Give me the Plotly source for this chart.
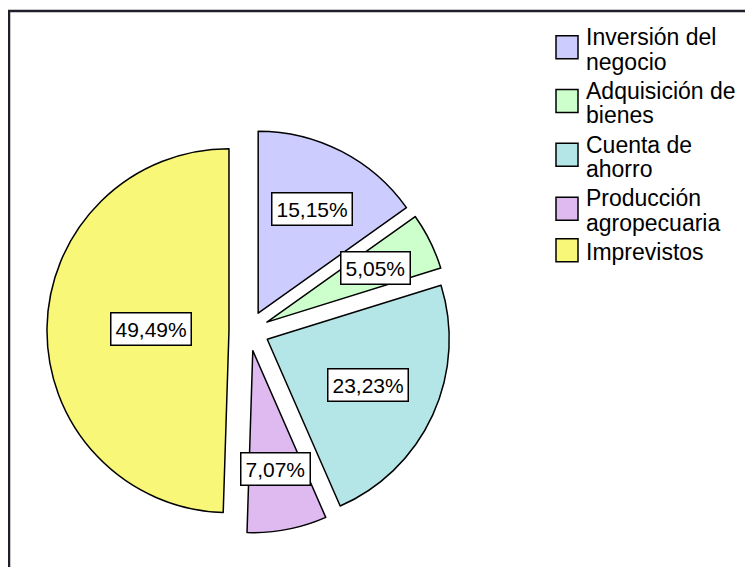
import numpy as np
import plotly.graph_objects as go

# Data
categories = ["Inversión del<br>negocio", "Adquisición de<br>bienes", "Cuenta de<br>ahorro",
              "Producción<br>agropecuaria", "Imprevistos"]
percentages = [15.15, 5.05, 23.23, 7.07, 49.49]
slice_colors = ["#ccccff", "#ccffcc", "#b4e6e8", "#dfbaf0", "#f9f778"]

# Layout geometry (pixels); the page body adds an 8px margin, so shift back
W, H = 753, 567
OFF = 8
CX, CY = 249 - OFF, 331 - OFF   # pie centre
R = 182                         # pie radius
PULL = 0.11                     # every slice is pulled out
HALF = R * (1 + PULL)           # plotly shrinks r so pulled slices fit the domain
FONT = "Liberation Sans, Arial"

fig = go.Figure()

fig.add_trace(go.Pie(
    labels=[c.replace("<br>", " ") for c in categories],
    values=percentages,
    sort=False,
    direction="clockwise",
    rotation=0,
    pull=[PULL] * len(percentages),
    marker=dict(colors=slice_colors, line=dict(color="black", width=1.5)),
    textinfo="none",
    hoverinfo="label+percent",
    showlegend=False,
    domain=dict(x=[(CX - HALF) / W, (CX + HALF) / W],
                y=[1 - (CY + HALF) / H, 1 - (CY - HALF) / H]),
))

# value labels in white boxes, placed at each sector's centroid
total = sum(percentages)
start = 0.0
for v in percentages:
    frac = v / total
    theta = 2 * np.pi * frac
    mid = 2 * np.pi * (start + frac / 2)
    centroid = 2 * R * np.sin(theta / 2) / (1.5 * theta)
    dist = PULL * R + centroid
    x = (CX + dist * np.sin(mid)) / W
    y = 1 - (CY - dist * np.cos(mid)) / H
    fig.add_annotation(
        x=x, y=y, xref="paper", yref="paper", xanchor="center", yanchor="middle",
        text=f"{v:.2f}%".replace(".", ","),
        showarrow=False,
        font=dict(family=FONT, size=21, color="black"),
        bgcolor="white", bordercolor="black", borderwidth=1.5, borderpad=4,
    )
    start += frac

# legend drawn by hand: SPSS-style big text with tight line spacing
LEG_FONT = 23
LINE_GAP = 24.5    # baseline to baseline inside an entry
ITEM_STEP = 53.8   # first baseline of one entry to the next
first_base = 45 - OFF
text_x = 585 - OFF
box_x0, box_x1 = 556 - OFF, 578 - OFF
for i, (label, color) in enumerate(zip(categories, slice_colors)):
    lines = label.split("<br>")
    b1 = first_base + i * ITEM_STEP
    for k, line in enumerate(lines):
        base = b1 + k * LINE_GAP
        fig.add_annotation(
            x=text_x / W, y=1 - (base - 0.3465 * LEG_FONT) / H,
            xref="paper", yref="paper", xanchor="left", yanchor="middle",
            text=line, showarrow=False, borderpad=0,
            font=dict(family=FONT, size=LEG_FONT, color="black"),
        )
    bn = b1 + (len(lines) - 1) * LINE_GAP
    yc = (b1 - 20 + bn) / 2
    fig.add_shape(type="rect", xref="paper", yref="paper",
                  x0=box_x0 / W, x1=box_x1 / W,
                  y0=1 - (yc + 11.5) / H, y1=1 - (yc - 11.5) / H,
                  fillcolor=color, line=dict(color="black", width=1.5))

# outer frame (runs off the right and bottom edges)
fig.add_shape(type="rect", xref="paper", yref="paper",
              x0=(9 - OFF) / W, x1=1.05, y0=-0.05, y1=1 - (11 - OFF) / H,
              line=dict(color="#1f1f2b", width=2.5), fillcolor="rgba(0,0,0,0)")

fig.update_layout(
    width=W, height=H,
    margin=dict(l=0, r=0, t=0, b=0),
    paper_bgcolor="white",
    showlegend=False,
    font=dict(family=FONT),
)

fig.write_html("out.html")
